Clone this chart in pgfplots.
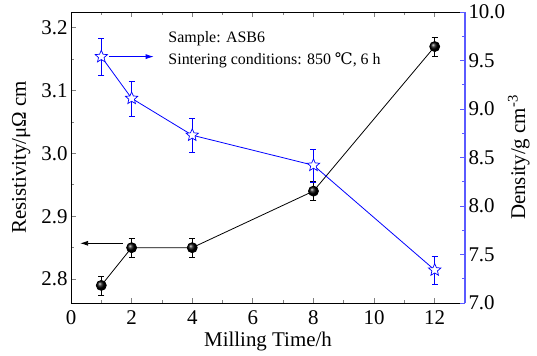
\documentclass[border=0pt]{standalone}
\usepackage{pgfplots}
\pgfplotsset{compat=1.18}
\usepackage{fontspec}
\setmainfont{Liberation Serif}
\newfontfamily\symfont{DejaVu Serif}
\usetikzlibrary{arrows.meta,shadings,calc}
\definecolor{rblue}{RGB}{0,0,255}
\definecolor{spblue}{RGB}{90,90,255}
\pgfdeclareplotmark{ostar}{%
  \pgfpathmoveto{\pgfpointpolar{90}{\pgfplotmarksize}}%
  \pgfpathlineto{\pgfpointpolar{126}{0.45\pgfplotmarksize}}%
  \pgfpathlineto{\pgfpointpolar{162}{\pgfplotmarksize}}%
  \pgfpathlineto{\pgfpointpolar{198}{0.45\pgfplotmarksize}}%
  \pgfpathlineto{\pgfpointpolar{234}{\pgfplotmarksize}}%
  \pgfpathlineto{\pgfpointpolar{270}{0.45\pgfplotmarksize}}%
  \pgfpathlineto{\pgfpointpolar{306}{\pgfplotmarksize}}%
  \pgfpathlineto{\pgfpointpolar{342}{0.45\pgfplotmarksize}}%
  \pgfpathlineto{\pgfpointpolar{18}{\pgfplotmarksize}}%
  \pgfpathlineto{\pgfpointpolar{54}{0.45\pgfplotmarksize}}%
  \pgfpathclose
  \pgfusepathqfillstroke
}
\begin{document}
\begin{tikzpicture}[font=\fontsize{21}{25}\selectfont]
\begin{axis}[
  name=main,
  scale only axis, width=394bp, height=291bp,
  xmin=0, xmax=13, ymin=2.762, ymax=3.225,
  axis x line*=box, axis y line*=left,
  axis line style={line width=0.9pt},
  xtick={0,2,4,6,8,10,12}, minor x tick num=1,
  ytick={2.8,2.9,3.0,3.1,3.2}, minor y tick num=1,
  tick align=inside, major tick length=5bp, minor tick length=3bp,
  tick style={line width=0.8pt},
  yticklabel style={/pgf/number format/fixed,/pgf/number format/fixed zerofill,/pgf/number format/precision=1},
  xticklabel style={yshift=-4bp},
  /pgf/number format/assume math mode=true,
  xlabel={Milling Time/h}, ylabel={Resistivity/μΩ cm},
  xlabel style={yshift=-1bp}, ylabel style={yshift=4bp},
  clip=false,
]
\addplot[black, line width=0.8pt, mark=ball, mark size=5bp, mark options={ball color=black},
  error bars/.cd, y dir=both, y explicit, error mark options={rotate=90,mark size=3bp,black}]
  coordinates {(1,2.79) +- (0,0.015) (2,2.85) +- (0,0.015) (4,2.85) +- (0,0.015) (8,2.94) +- (0,0.015) (12,3.17) +- (0,0.015)};
\draw[black, line width=0.8pt, -{Latex[length=8bp,width=5bp]}] (axis cs:1.71,2.857) -- (axis cs:0.3,2.857);
\end{axis}
\begin{axis}[
  scale only axis, width=394bp, height=291bp,
  xmin=0, xmax=13, ymin=7, ymax=10,
  axis x line=none, axis y line*=right,
  axis line style={spblue, line width=1.2pt},
  y axis line style={spblue, line width=1.2pt},
  every outer y axis line/.append style={spblue, line width=1.2pt},
  ytick={7,7.5,...,10}, minor y tick num=1,
  every y tick/.style={spblue, line width=0.8pt}, every minor y tick/.style={spblue, line width=0.8pt},
  tick align=inside, major tick length=5bp, minor tick length=3bp,
  yticklabel style={/pgf/number format/fixed,/pgf/number format/fixed zerofill,/pgf/number format/precision=1},
  /pgf/number format/assume math mode=true,
  ylabel={Density/g cm\textsuperscript{-3}},
  ylabel style={yshift=4bp},
  clip=false,
]
\addplot[rblue, line width=0.8pt, mark=ostar, mark size=6.5bp, mark options={fill=white, draw=rblue, line width=0.7pt},
  error bars/.cd, y dir=both, y explicit, error mark options={rotate=90,mark size=3bp,rblue}]
  coordinates {(1,9.54) +- (0,0.19) (2,9.11) +- (0,0.18) (4,8.73) +- (0,0.18) (8,8.42) +- (0,0.17) (12,7.34) +- (0,0.145)};
\draw[rblue, line width=0.8pt, -{Latex[length=8bp,width=5bp]}] (axis cs:1.25,9.54) -- (axis cs:2.73,9.54);
\node[anchor=west, font=\fontsize{16}{19}\selectfont] at (axis cs:3.1,9.72) {Sample: ASB6};
\node[anchor=west, font=\fontsize{16}{19}\selectfont] at (axis cs:3.1,9.50) {Sintering conditions: 850 {\symfont ℃}, 6 h};
\end{axis}
\pgfresetboundingbox
\path ($(main.south west)+(-71bp,-53bp)$) rectangle ($(main.north east)+(72bp,12bp)$);
\end{tikzpicture}
\end{document}
